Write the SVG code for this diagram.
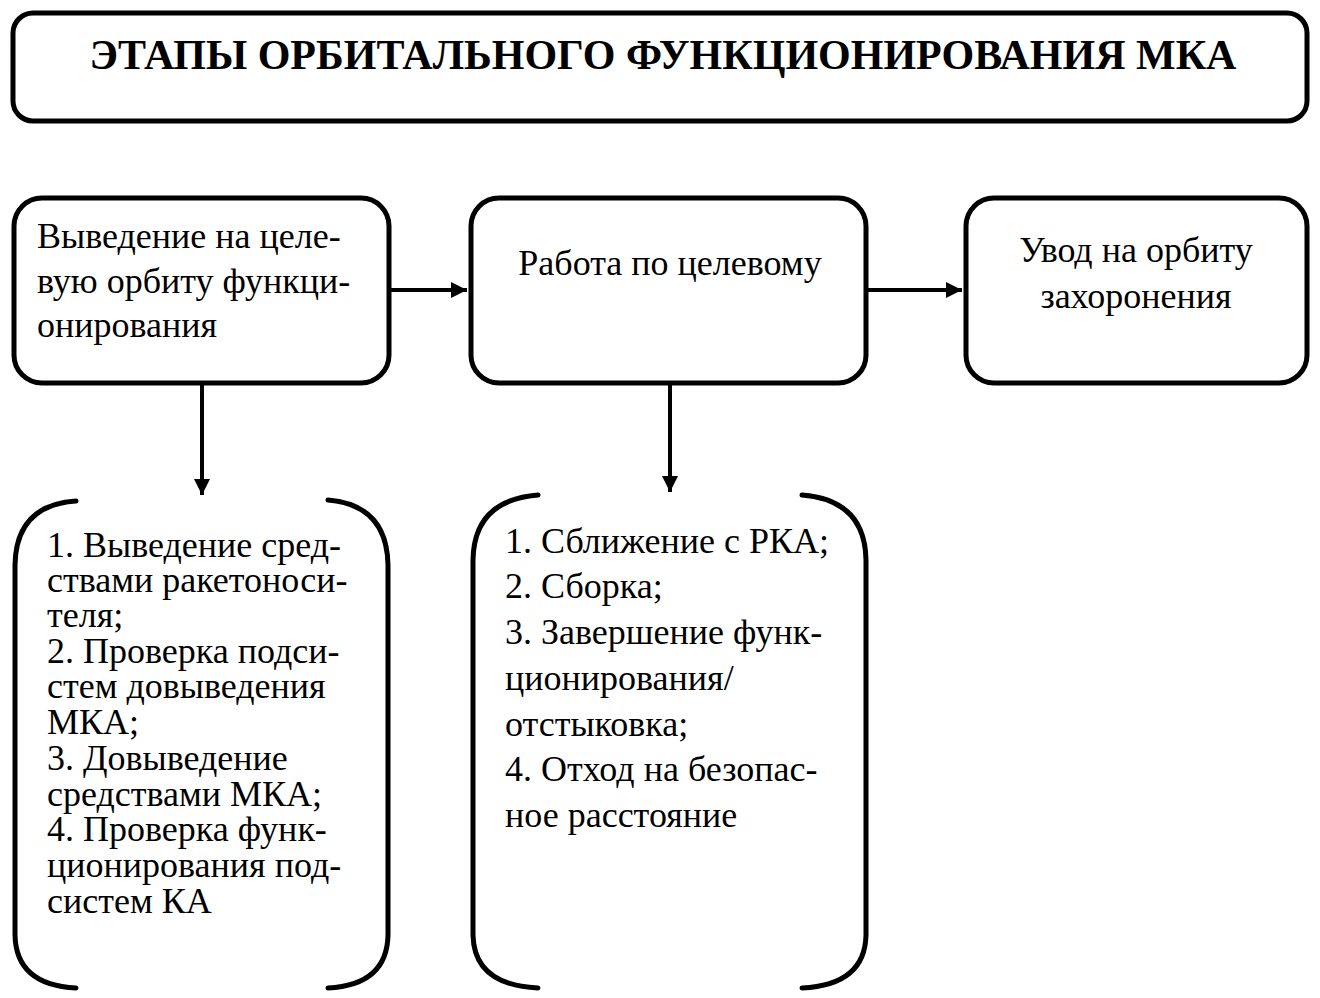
<svg xmlns="http://www.w3.org/2000/svg" width="1320" height="998" viewBox="0 0 1320 998">
<style>
.box{fill:#fff;stroke:#000;stroke-width:5}
.br{fill:none;stroke:#000;stroke-width:5;stroke-linecap:round}
.t{font-family:"Liberation Serif","Times New Roman",serif;font-size:36px;fill:#000}
.h{font-family:"Liberation Serif","Times New Roman",serif;font-size:42px;font-weight:bold;fill:#000}
.c{stroke:#000;stroke-width:4;fill:none}
</style>
<defs>
<marker id="ah" markerWidth="4" markerHeight="4" refX="4" refY="2" orient="auto" markerUnits="strokeWidth"><path d="M0,0 L4,2 L0,4 Z" fill="#000"/></marker>
</defs>
<rect width="1320" height="998" fill="#fff"/>
<g id="title">
<rect class="box" x="13" y="13" width="1294" height="108" rx="20"/>
<text class="h" x="663" y="69" text-anchor="middle">ЭТАПЫ ОРБИТАЛЬНОГО ФУНКЦИОНИРОВАНИЯ МКА</text>
</g>
<g id="n1">
<rect class="box" x="14" y="198" width="375" height="185" rx="28"/>
<text class="t" x="37" y="248">Выведение на целе-</text>
<text class="t" x="37" y="293">вую орбиту функци-</text>
<text class="t" x="37" y="337">онирования</text>
</g>
<g id="n2">
<rect class="box" x="471" y="198" width="395" height="185" rx="28"/>
<text class="t" x="670" y="275" text-anchor="middle">Работа по целевому</text>
</g>
<g id="n3">
<rect class="box" x="966" y="198" width="341" height="185" rx="28"/>
<text class="t" x="1136" y="262" text-anchor="middle">Увод на орбиту</text>
<text class="t" x="1136" y="308" text-anchor="middle">захоронения</text>
</g>
<g id="n4">
<path class="br" d="M76,501 Q16,505 15,565 L15,935 Q16,985 76,988"/>
<path class="br" d="M328,500 Q387,505 388,565 L388,935 Q387,985 328,988"/>
<text class="t" x="47" y="557">1. Выведение сред-</text>
<text class="t" x="47" y="592">ствами ракетоноси-</text>
<text class="t" x="47" y="627">теля;</text>
<text class="t" x="47" y="663">2. Проверка подси-</text>
<text class="t" x="47" y="698">стем довыведения</text>
<text class="t" x="47" y="734">МКА;</text>
<text class="t" x="47" y="770">3. Довыведение</text>
<text class="t" x="47" y="806">средствами МКА;</text>
<text class="t" x="47" y="841">4. Проверка функ-</text>
<text class="t" x="47" y="877">ционирования под-</text>
<text class="t" x="47" y="913">систем КА</text>
</g>
<g id="n5">
<path class="br" d="M538,495 Q474,500 473,560 L473,935 Q474,985 538,988"/>
<path class="br" d="M802,495 Q865,500 866,560 L866,935 Q865,985 802,988"/>
<text class="t" x="505" y="553">1. Сближение с РКА;</text>
<text class="t" x="505" y="598">2. Сборка;</text>
<text class="t" x="505" y="644">3. Завершение функ-</text>
<text class="t" x="505" y="690">ционирования/</text>
<text class="t" x="505" y="736">отстыковка;</text>
<text class="t" x="505" y="781">4. Отход на безопас-</text>
<text class="t" x="505" y="827">ное расстояние</text>
</g>
<g id="connectors">
<line class="c" x1="391" y1="290" x2="467" y2="290" marker-end="url(#ah)"/>
<line class="c" x1="868" y1="290" x2="962" y2="290" marker-end="url(#ah)"/>
<line class="c" x1="202" y1="385" x2="202" y2="495" marker-end="url(#ah)"/>
<line class="c" x1="670" y1="385" x2="670" y2="492" marker-end="url(#ah)"/>
</g>
</svg>
